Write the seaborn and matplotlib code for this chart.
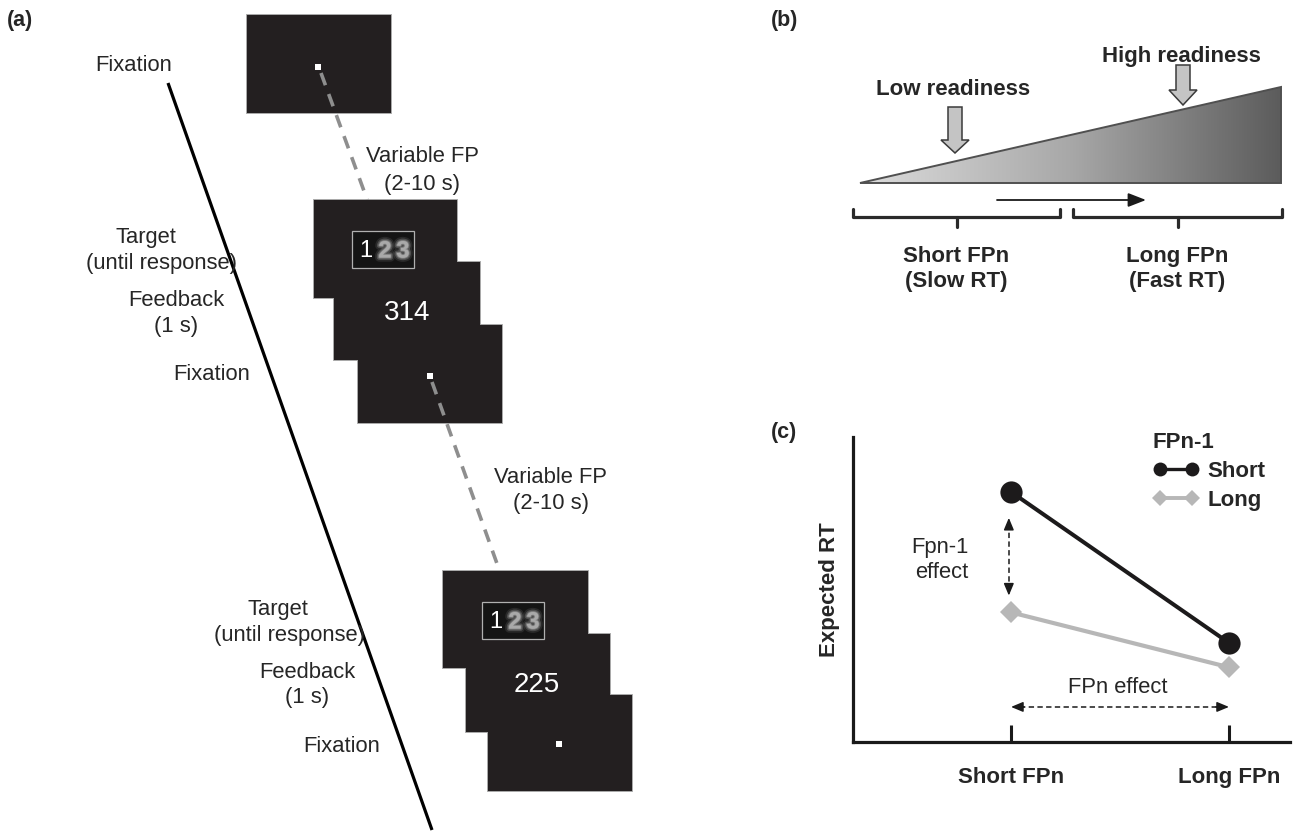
import numpy as np
import pandas as pd
import matplotlib
matplotlib.use("Agg")
import matplotlib.pyplot as plt
import matplotlib.patheffects as pe
import seaborn as sns
from matplotlib.patches import Rectangle, Polygon, FancyArrow
from matplotlib.lines import Line2D

# ---- panel (c) data: expected RT (arbitrary units) by current FP and previous FP
fp_levels = ["Short FPn", "Long FPn"]
prev_fp_labels = ["Short", "Long"]
rt_after_short = [8.2, 3.25]
rt_after_long = [4.25, 2.45]

# ---- panel (a) text
fixation_label = "Fixation"
fp_label = ["Variable FP", "(2-10 s)"]
target_label = ["Target", "(until response)"]
feedback_label = ["Feedback", "(1 s)"]
feedback_values = ["314", "225"]
target_digits = ["1", "2", "3"]

# ---- panel (b) text
readiness_labels = ["Low readiness", "High readiness"]
fpn_groups = [["Short FPn", "(Slow RT)"], ["Long FPn", "(Fast RT)"]]

sns.set_theme(style="white")
plt.rcParams["font.family"] = ["Liberation Sans", "DejaVu Sans"]

W, H = 1293, 834
fig = plt.figure(figsize=(W / 100, H / 100), dpi=100)
fig.patch.set_facecolor("white")

# overlay canvas in pixel units (y downwards)
ax = fig.add_axes([0, 0, 1, 1])
ax.set_xlim(0, W)
ax.set_ylim(H, 0)
ax.axis("off")

SCREEN = "#231f20"
REG = 15.8
BOLD = 16

# ---------------- panel (a) ----------------
ax.text(7, 20, "(a)", fontsize=15.5, fontweight="bold", ha="left", va="center")

# time axis
ax.plot([168, 432], [83, 830], color="black", lw=2.3, solid_capstyle="butt", zorder=1)


def screen_stack(rects, z):
    """Overlapping screens: outlines underneath, fills on top."""
    for x0, y0, x1, y1 in rects:
        ax.add_patch(Rectangle((x0, y0), x1 - x0, y1 - y0, facecolor="none",
                               edgecolor="#a0a0a0", lw=1.3, zorder=z))
    for x0, y0, x1, y1 in rects:
        ax.add_patch(Rectangle((x0, y0), x1 - x0, y1 - y0, facecolor=SCREEN,
                               edgecolor="none", zorder=z + 0.1))


def fixation_dot(x, y, z):
    ax.add_patch(Rectangle((x - 2.8, y - 2.8), 5.6, 5.6, facecolor="white",
                           edgecolor="none", zorder=z))


# soft halo to render the degraded digits
blur = [pe.Stroke(linewidth=6, foreground="#5a5a5a", alpha=0.3),
        pe.Stroke(linewidth=3.5, foreground="#7e7e7e", alpha=0.45),
        pe.Stroke(linewidth=1.5, foreground="#9a9a9a", alpha=0.6),
        pe.Normal()]


def target_box(x0, y0, z):
    ax.add_patch(Rectangle((x0, y0), 62, 37, facecolor="#141414",
                           edgecolor="#b0b0b0", lw=0.9, zorder=z))
    cx = [x0 + 14, x0 + 33, x0 + 51]
    cy = y0 + 20
    ax.text(cx[0], cy, target_digits[0], color="white", fontsize=17,
            ha="center", va="center", zorder=z + 0.2)
    for d, x in zip(target_digits[1:], cx[1:]):
        ax.text(x, cy, d, color="#a9a9a9", fontsize=17, fontweight="bold",
                ha="center", va="center", zorder=z + 0.2, path_effects=blur)


# first fixation screen
screen_stack([(247, 15, 391, 113)], 2)
fixation_dot(318, 67, 3)
# variable foreperiod (dashed)
ax.plot([321, 368], [73, 202], color="#8e8e8e", lw=2.6,
        dashes=(3.6, 2.6), zorder=3.2)

# first trial sequence
screen_stack([(314, 200, 457, 298), (334, 262, 480, 360), (358, 325, 502, 423)], 4)
target_box(352, 231, 5)
ax.text(407, 313, feedback_values[0], color="white", fontsize=20,
        ha="center", va="center", zorder=7)
fixation_dot(430, 376, 9)
ax.plot([432, 500], [382, 572], color="#8e8e8e", lw=2.6,
        dashes=(3.6, 2.6), zorder=9.2)

# second trial sequence
screen_stack([(443, 571, 588, 668), (466, 634, 610, 732), (488, 695, 632, 791)], 10)
target_box(482, 602, 11)
ax.text(537, 685, feedback_values[1], color="white", fontsize=20,
        ha="center", va="center", zorder=13)
fixation_dot(559, 744, 15)

# labels along the time axis
ax.text(134, 65, fixation_label, fontsize=REG, ha="center", va="center")
ax.text(423, 156, fp_label[0], fontsize=REG, ha="center", va="center")
ax.text(422, 184, fp_label[1], fontsize=REG, ha="center", va="center")
ax.text(146, 237, target_label[0], fontsize=REG, ha="center", va="center")
ax.text(162, 264, target_label[1], fontsize=REG, ha="center", va="center")
ax.text(176, 300, feedback_label[0], fontsize=REG, ha="center", va="center")
ax.text(176, 326, feedback_label[1], fontsize=REG, ha="center", va="center")
ax.text(212, 374, fixation_label, fontsize=REG, ha="center", va="center")

ax.text(551, 477, fp_label[0], fontsize=REG, ha="center", va="center")
ax.text(551, 504, fp_label[1], fontsize=REG, ha="center", va="center")
ax.text(278, 609, target_label[0], fontsize=REG, ha="center", va="center")
ax.text(290, 636, target_label[1], fontsize=REG, ha="center", va="center")
ax.text(307, 672, feedback_label[0], fontsize=REG, ha="center", va="center")
ax.text(307, 697, feedback_label[1], fontsize=REG, ha="center", va="center")
ax.text(342, 747, fixation_label, fontsize=REG, ha="center", va="center")

# ---------------- panel (b) ----------------
ax.text(771, 20, "(b)", fontsize=15.5, fontweight="bold", ha="left", va="center")

tri = Polygon([[860, 183], [1281, 87], [1281, 183]], closed=True,
              facecolor="none", edgecolor="#505050", lw=1.4, zorder=3)
ax.add_patch(tri)
grad = np.linspace(0, 1, 256)[None, :]
cmap = matplotlib.colors.LinearSegmentedColormap.from_list(
    "ramp", ["#dcdcdc", "#a8a8a8", "#5c5c5c"])
im = ax.imshow(grad, cmap=cmap, extent=[860, 1281, 183, 87],
               aspect="auto", zorder=2, interpolation="bilinear")
im.set_clip_path(tri)
ax.set_xlim(0, W)
ax.set_ylim(H, 0)

for x, ytop, ytip, hl in [(955, 107, 153, 13), (1183, 65, 105, 15)]:
    ax.add_patch(FancyArrow(x, ytop, 0, ytip - ytop, width=14, head_width=28,
                            head_length=hl, length_includes_head=True,
                            facecolor="#c4c4c4", edgecolor="#3a3a3a",
                            lw=1.1, zorder=4))
ax.text(953, 89, readiness_labels[0], fontsize=BOLD, fontweight="bold",
        ha="center", va="center")
ax.text(1181, 56, readiness_labels[1], fontsize=BOLD, fontweight="bold",
        ha="center", va="center")

# direction arrow
ax.annotate("", xy=(1146, 200), xytext=(997, 200),
            arrowprops=dict(arrowstyle="-|>,head_length=0.9,head_width=0.35",
                            color="#1a1a1a", lw=1.3, shrinkA=0, shrinkB=0))

# braces under the ramp
for x0, x1 in [(853, 1060), (1073, 1282)]:
    xm = (x0 + x1) / 2
    ax.plot([x0, x0, x1, x1], [209, 217, 217, 209], color="#2a2a2a", lw=2.3,
            solid_joinstyle="round", solid_capstyle="round")
    ax.plot([xm, xm], [217, 227], color="#2a2a2a", lw=2.3,
            solid_capstyle="round")
for (l1, l2), xm in zip(fpn_groups, [956, 1177]):
    ax.text(xm, 256, l1, fontsize=BOLD, fontweight="bold", ha="center", va="center")
    ax.text(xm, 281, l2, fontsize=BOLD, fontweight="bold", ha="center", va="center")

# ---------------- panel (c) ----------------
ax.text(771, 432, "(c)", fontsize=15.5, fontweight="bold", ha="left", va="center")

axc = fig.add_axes([853 / W, 1 - 742 / H, (1290 - 853) / W, (742 - 437) / H])
axc.patch.set_alpha(0)

df = pd.DataFrame({
    "FPn": fp_levels * 2,
    "RT": rt_after_short + rt_after_long,
    "FPn-1": [prev_fp_labels[0]] * 2 + [prev_fp_labels[1]] * 2,
})
c_short, c_long = "#1c1a1b", "#b7b7b7"
sns.lineplot(data=df[df["FPn-1"] == "Long"], x="FPn", y="RT", ax=axc,
             color=c_long, lw=3.0, marker="D", markersize=11.5,
             markeredgecolor=c_long, markeredgewidth=0, legend=False)
sns.lineplot(data=df[df["FPn-1"] == "Short"], x="FPn", y="RT", ax=axc,
             color=c_short, lw=2.9, marker="o", markersize=16,
             markeredgecolor=c_short, markeredgewidth=0, legend=False)
for ln in axc.lines:
    ln.set_clip_on(False)

axc.set_xlim(-0.725, 1.28)
axc.set_ylim(0, 10)
axc.set_xticks([0, 1])
axc.set_xticklabels(fp_levels, fontsize=BOLD, fontweight="bold")
axc.set_yticks([])
axc.set_xlabel("")
axc.set_ylabel("Expected RT", fontsize=BOLD, fontweight="bold", labelpad=9)
axc.tick_params(axis="x", direction="in", length=12, width=2.2,
                color="#1a1a1a", pad=18, bottom=True)
for s in ["top", "right"]:
    axc.spines[s].set_visible(False)
for s in ["left", "bottom"]:
    axc.spines[s].set_linewidth(2.3)
    axc.spines[s].set_color("#1a1a1a")

# effect annotations (dashed double arrows)
arrow_kw = dict(arrowstyle="-|>,head_length=0.6,head_width=0.25",
                color="#1a1a1a", lw=1.1, shrinkA=0, shrinkB=0)
y_top = rt_after_short[0] - 0.85
y_bot = rt_after_long[0] + 0.55
axc.plot([-0.01, -0.01], [y_top - 0.2, y_bot + 0.2], color="#1a1a1a",
         lw=1.1, dashes=(3.5, 2.2))
axc.annotate("", xy=(-0.01, y_top), xytext=(-0.01, y_top - 0.3), arrowprops=arrow_kw)
axc.annotate("", xy=(-0.01, y_bot), xytext=(-0.01, y_bot + 0.3), arrowprops=arrow_kw)
axc.text(-0.326, 6.39, "Fpn-1", fontsize=REG, ha="center", va="center")
axc.text(-0.317, 5.57, "effect", fontsize=REG, ha="center", va="center")

y_h = 1.15
axc.plot([0.04, 0.96], [y_h, y_h], color="#1a1a1a", lw=1.1, dashes=(3.5, 2.2))
axc.annotate("", xy=(0.0, y_h), xytext=(0.06, y_h), arrowprops=arrow_kw)
axc.annotate("", xy=(1.0, y_h), xytext=(0.94, y_h), arrowprops=arrow_kw)
axc.text(0.49, 1.8, "FPn effect", fontsize=REG, ha="center", va="center")

# legend
handles = [
    Line2D([], [], color=c_short, lw=2.4, marker="o", markersize=10,
           markeredgewidth=0),
    Line2D([], [], color=c_long, lw=2.8, marker="D", markersize=8,
           markeredgewidth=0),
]
leg = axc.legend(handles, prev_fp_labels, title="FPn-1", numpoints=2,
                 loc="upper left", bbox_to_anchor=(1153 / W, 1 - 432 / H),
                 bbox_transform=fig.transFigure, frameon=False,
                 borderpad=0, borderaxespad=0, handlelength=2.05,
                 handletextpad=0.4, labelspacing=0.35,
                 alignment="left",
                 prop=dict(size=BOLD, weight="bold"),
                 title_fontproperties=dict(size=BOLD, weight="bold"))

fig.savefig("out.png", dpi=100, facecolor="white")
